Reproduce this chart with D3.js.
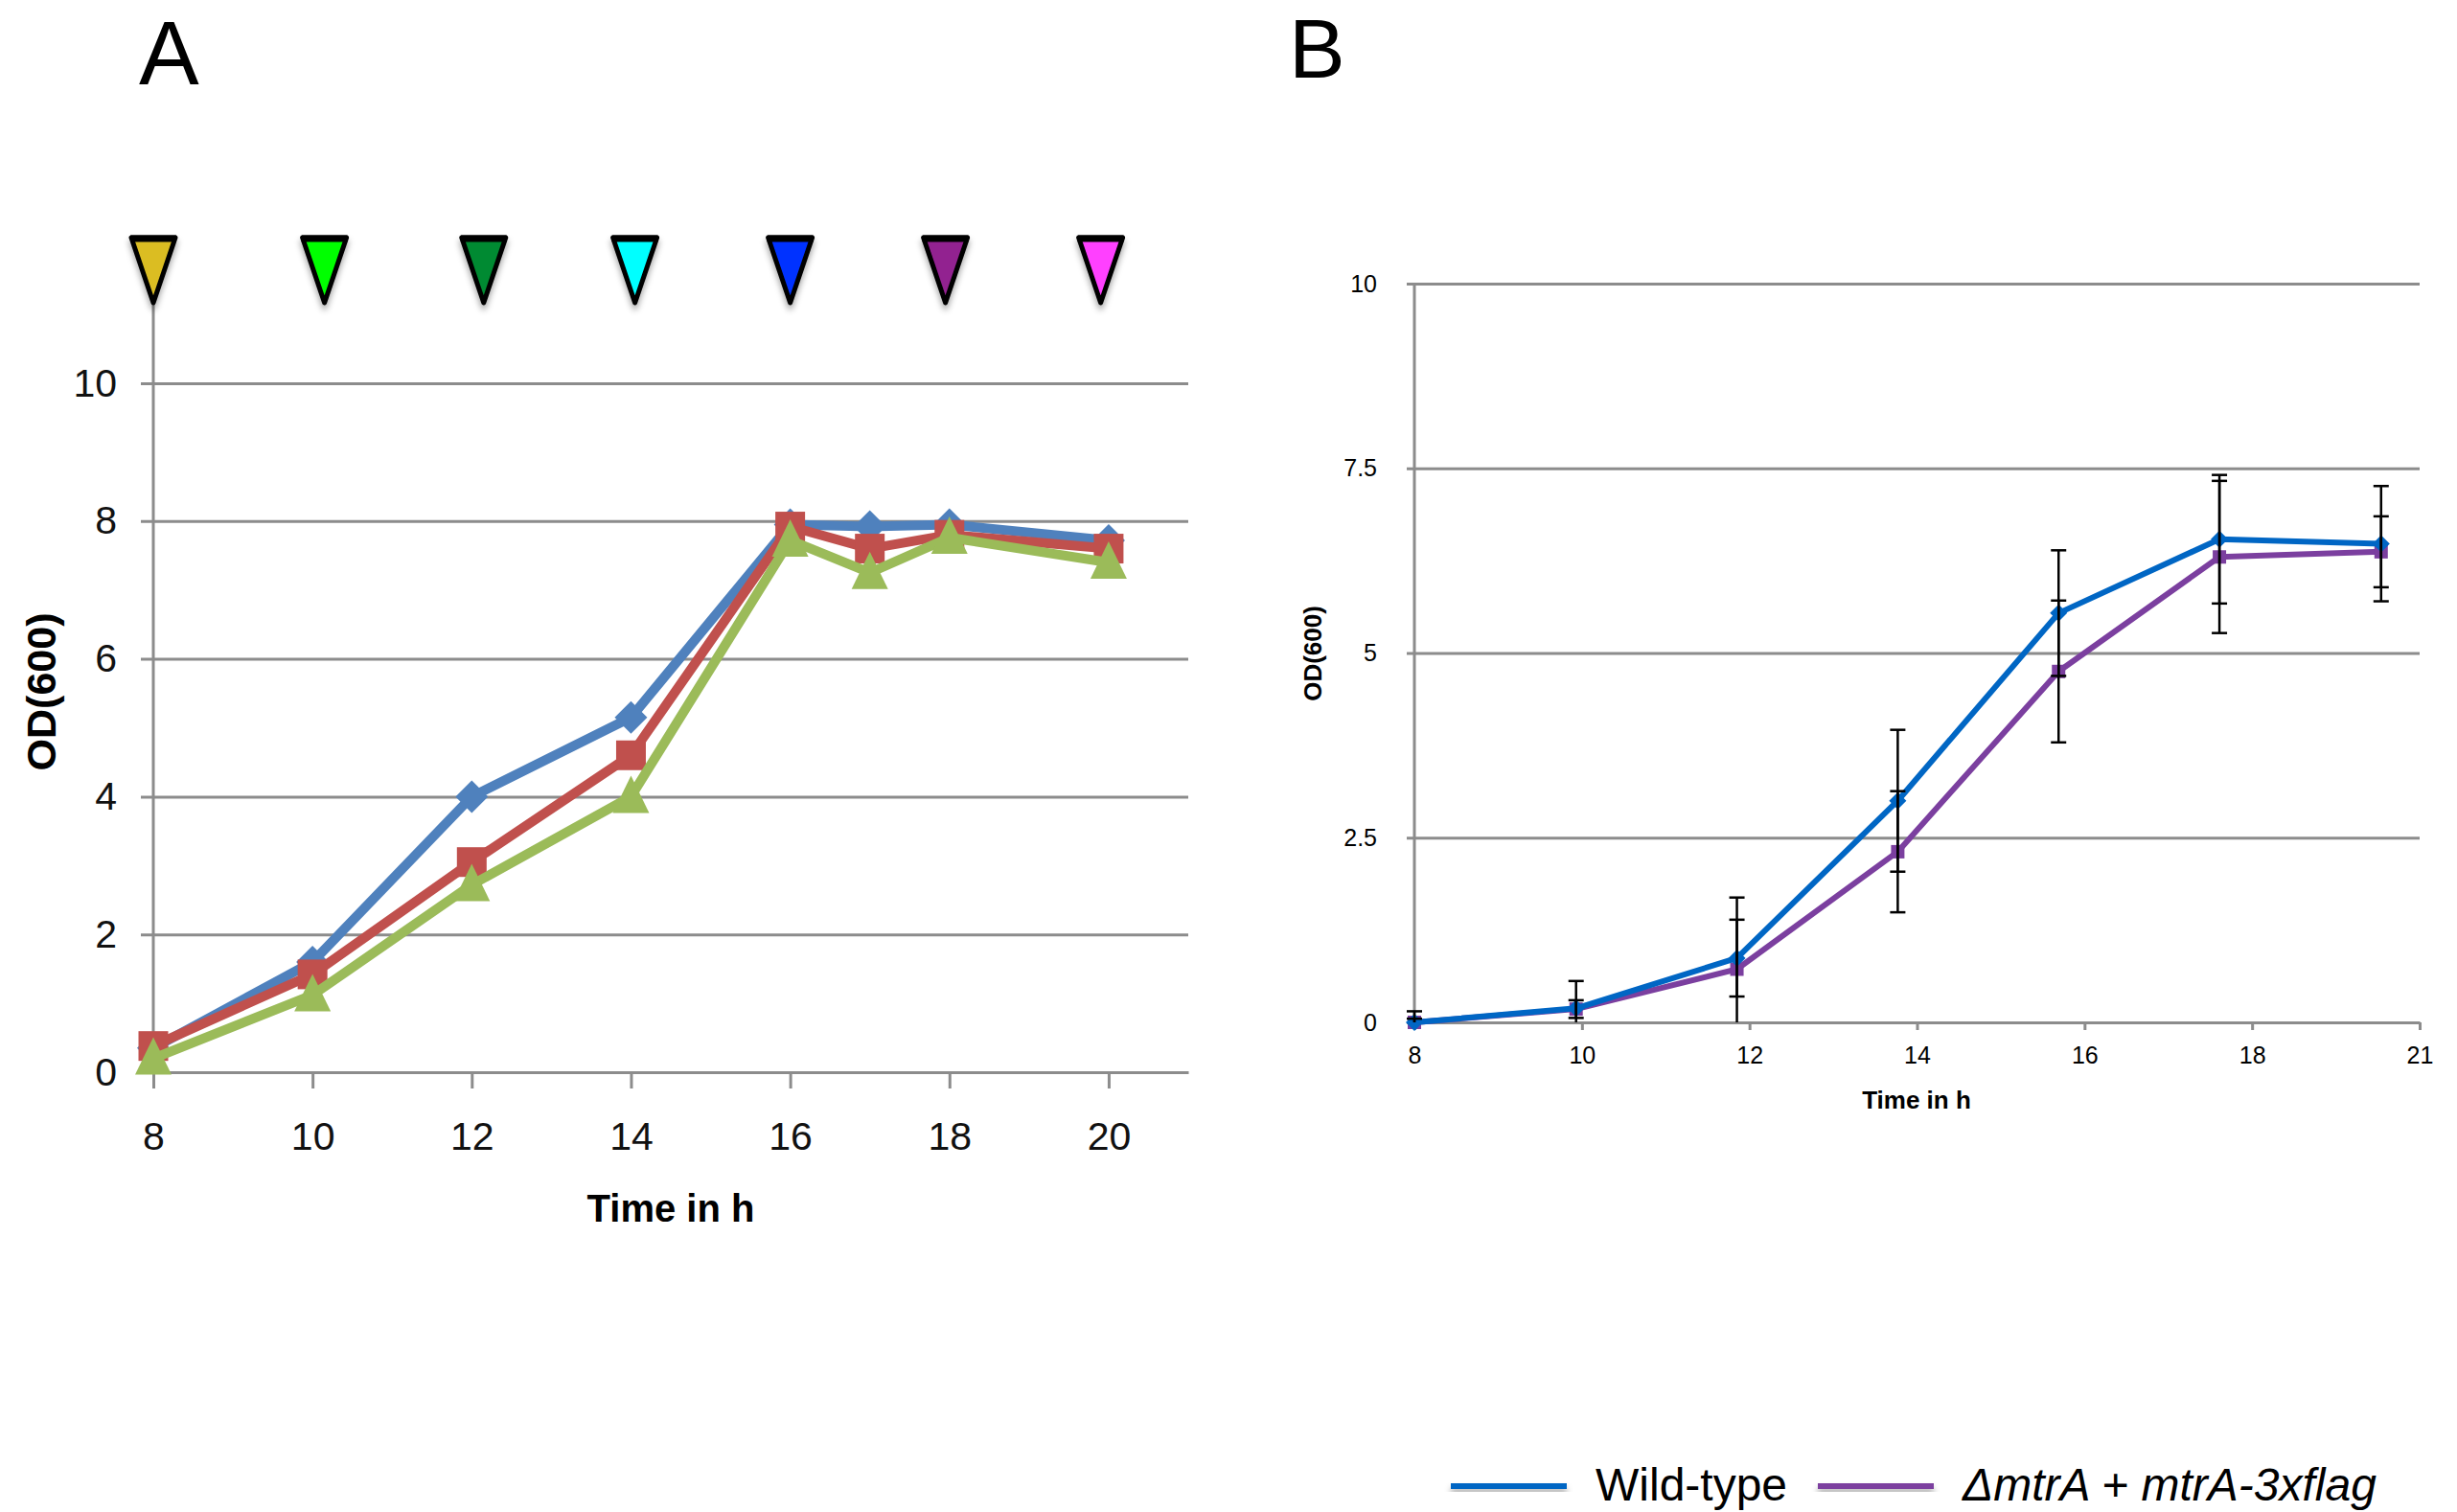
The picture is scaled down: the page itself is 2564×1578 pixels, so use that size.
<!DOCTYPE html>
<html>
<head>
<meta charset="utf-8">
<script src="https://cdn.jsdelivr.net/npm/d3@7"></script>
<style>
  body { margin: 0; background: #fff; }
  svg { display: block; }
</style>
</head>
<body>
<div id="chart"></div>
<script>
// ---------- Panel A data ----------
const timesA = [8, 10, 12, 14, 16, 17, 18, 20];
const seriesA1 = [0.35, 1.6, 4.0, 5.15, 7.95, 7.92, 7.95, 7.72];   // blue, diamonds
const seriesA2 = [0.38, 1.42, 3.05, 4.6, 7.92, 7.6, 7.8, 7.6];     // red, squares
const seriesA3 = [0.2, 1.12, 2.72, 4.0, 7.72, 7.25, 7.76, 7.4];    // green, triangles
const xTicksA = [8, 10, 12, 14, 16, 18, 20];
const yTicksA = [0, 2, 4, 6, 8, 10];
// sampling arrows above panel A
const sampleTimesA = [8, 10.15, 12.15, 14.05, 16, 17.95, 19.9];
const sampleColors = ["#dbbd24", "#00ff00", "#008a30", "#00ffff", "#0033ff", "#922090", "#ff40ff"];

// ---------- Panel B data ----------
const timesB = [8, 9.93, 11.85, 13.77, 15.69, 17.61, 19.54];
const wildType = [0, 0.19, 0.87, 3.0, 5.54, 6.54, 6.48];
const wildTypeErr = [0.15, 0.37, 0.52, 0.96, 0.85, 0.87, 0.78];
const complemented = [0, 0.18, 0.72, 2.31, 4.75, 6.3, 6.37];
const complementedErr = [0.05, 0.12, 0.97, 0.82, 0.96, 1.03, 0.48];
const xTicksB = [8, 10, 12, 14, 16, 18, 20];
const xTickLabelsB = ["8", "10", "12", "14", "16", "18", "21"];
const yTicksB = [0, 2.5, 5, 7.5, 10];
const legendLabels = ["Wild-type", "\u0394mtrA + mtrA-3xflag"];

const W = 2564, H = 1578;
const GRID = "#8c8c8c";

const svg = d3.select("#chart").append("svg")
    .attr("width", W)
    .attr("height", H);

// soft drop shadow (arrows + legend swatches)
const defs = svg.append("defs");
defs.append("filter")
    .attr("id", "shadow")
    .attr("x", "-50%").attr("y", "-50%")
    .attr("width", "200%").attr("height", "200%")
    .append("feDropShadow")
    .attr("dx", 0).attr("dy", 5)
    .attr("stdDeviation", 3)
    .attr("flood-color", "#000")
    .attr("flood-opacity", 0.35);

// =========================== Panel A ===========================
const xA = d3.scaleLinear().domain([8, 21]).range([160, 1240]);
const yA = d3.scaleLinear().domain([0, 10]).range([1119, 400]);

const gA = svg.append("g").style("font-family", "'Liberation Sans', Arial, sans-serif");

// gridlines + y labels
gA.append("g")
    .attr("transform", `translate(147,0)`)
    .call(d3.axisLeft(yA).tickValues(yTicksA).tickSize(-(1240 - 147)).tickPadding(25))
    .call(g => g.select(".domain").remove())
    .call(g => g.selectAll("line").attr("stroke", GRID).attr("stroke-width", 3))
    .call(g => g.selectAll("text").attr("font-size", 41).attr("fill", "#111"));

// x axis
gA.append("g")
    .attr("transform", `translate(0,${yA(0)})`)
    .call(d3.axisBottom(xA).tickValues(xTicksA).tickSize(17).tickSizeOuter(0).tickPadding(35))
    .call(g => g.select(".domain").attr("stroke", GRID).attr("stroke-width", 3))
    .call(g => g.selectAll("line").attr("stroke", GRID).attr("stroke-width", 3))
    .call(g => g.selectAll("text").attr("font-size", 41).attr("fill", "#111"));

// y axis line
gA.append("line")
    .attr("x1", xA(8)).attr("x2", xA(8))
    .attr("y1", yA(11.2)).attr("y2", yA(0))
    .attr("stroke", GRID)
    .attr("stroke-width", 3);

// axis titles
gA.append("text")
    .attr("x", (xA(8) + xA(21)) / 2)
    .attr("y", 1275)
    .attr("text-anchor", "middle")
    .attr("font-size", 40)
    .attr("font-weight", "bold")
    .text("Time in h");

gA.append("text")
    .attr("transform", "translate(43,722) rotate(-90)")
    .attr("text-anchor", "middle")
    .attr("dominant-baseline", "central")
    .attr("font-size", 43)
    .attr("font-weight", "bold")
    .text("OD(600)");

// marker shapes
const diamond = r => `M0,${-r}L${r},0L0,${r}L${-r},0Z`;
const square = s => `M${-s / 2},${-s / 2}h${s}v${s}h${-s}Z`;
const triangle = (w, up, down) => `M0,${-up}L${w / 2},${down}L${-w / 2},${down}Z`;

const seriesA = [
    { values: seriesA1, color: "#4f81bd", shape: diamond(17) },
    { values: seriesA2, color: "#c0504d", shape: square(31) },
    { values: seriesA3, color: "#9bbb59", shape: triangle(38, 22, 17) }
];

const lineA = d3.line()
    .x(d => xA(d[0]))
    .y(d => yA(d[1]));

seriesA.forEach(s => {
    const pts = timesA.map((t, i) => [t, s.values[i]]);
    gA.append("path")
        .datum(pts)
        .attr("fill", "none")
        .attr("stroke", s.color)
        .attr("stroke-width", 10)
        .attr("stroke-linejoin", "round")
        .attr("d", lineA);
    gA.selectAll(null)
        .data(pts)
        .join("path")
        .attr("transform", d => `translate(${xA(d[0])},${yA(d[1])})`)
        .attr("d", s.shape)
        .attr("fill", s.color);
});

// sampling arrows
const arrows = gA.append("g").attr("filter", "url(#shadow)");
sampleTimesA.forEach((t, i) => {
    const cx = xA(t);
    arrows.append("path")
        .attr("d", `M${cx - 23},248L${cx + 23},248L${cx},316Z`)
        .attr("fill", sampleColors[i])
        .attr("stroke", "#000")
        .attr("stroke-width", 5)
        .attr("stroke-linejoin", "round");
    arrows.append("line")
        .attr("x1", cx - 24).attr("x2", cx + 24)
        .attr("y1", 249).attr("y2", 249)
        .attr("stroke", "#000")
        .attr("stroke-width", 7);
});

// panel letter
svg.append("text")
    .attr("x", 145)
    .attr("y", 88)
    .attr("font-family", "'Liberation Sans', Arial, sans-serif")
    .attr("font-size", 94)
    .text("A");

// =========================== Panel B ===========================
const xB = d3.scaleLinear().domain([8, 20]).range([1476, 2525]);
const yB = d3.scaleLinear().domain([0, 10]).range([1067, 296]);

const gB = svg.append("g").style("font-family", "'Liberation Sans', Arial, sans-serif");

// gridlines + y labels
gB.append("g")
    .attr("transform", `translate(1468,0)`)
    .call(d3.axisLeft(yB).tickValues(yTicksB).tickSize(-(2525 - 1468)).tickPadding(31)
        .tickFormat(d => String(d)))
    .call(g => g.select(".domain").remove())
    .call(g => g.selectAll("line").attr("stroke", GRID).attr("stroke-width", 3))
    .call(g => g.selectAll("text").attr("font-size", 25).attr("fill", "#000"));

// x axis
gB.append("g")
    .attr("transform", `translate(0,${yB(0)})`)
    .call(d3.axisBottom(xB).tickValues(xTicksB).tickSize(8).tickSizeOuter(0).tickPadding(17)
        .tickFormat((d, i) => xTickLabelsB[i]))
    .call(g => g.select(".domain").attr("stroke", GRID).attr("stroke-width", 3))
    .call(g => g.selectAll("line").attr("stroke", GRID).attr("stroke-width", 3))
    .call(g => g.selectAll("text").attr("font-size", 25).attr("fill", "#000"));

// y axis line
gB.append("line")
    .attr("x1", xB(8)).attr("x2", xB(8))
    .attr("y1", yB(10)).attr("y2", yB(0))
    .attr("stroke", GRID)
    .attr("stroke-width", 3);

// axis titles
gB.append("text")
    .attr("x", 2000)
    .attr("y", 1157)
    .attr("text-anchor", "middle")
    .attr("font-size", 26)
    .attr("font-weight", "bold")
    .text("Time in h");

gB.append("text")
    .attr("transform", "translate(1370,682) rotate(-90)")
    .attr("text-anchor", "middle")
    .attr("dominant-baseline", "central")
    .attr("font-size", 26)
    .attr("font-weight", "bold")
    .text("OD(600)");

const seriesB = [
    { values: complemented, err: complementedErr, color: "#7b3f9f", shape: square(14) },
    { values: wildType, err: wildTypeErr, color: "#0066c4", shape: diamond(9) }
];

const lineB = d3.line()
    .x(d => xB(d[0]))
    .y(d => yB(d[1]));

seriesB.forEach(s => {
    const pts = timesB.map((t, i) => [t, s.values[i]]);
    gB.append("path")
        .datum(pts)
        .attr("fill", "none")
        .attr("stroke", s.color)
        .attr("stroke-width", 6)
        .attr("stroke-linejoin", "round")
        .attr("d", lineB);
    gB.selectAll(null)
        .data(pts)
        .join("path")
        .attr("transform", d => `translate(${xB(d[0])},${yB(d[1])})`)
        .attr("d", s.shape)
        .attr("fill", s.color);
});

// error bars (clipped at the x axis)
seriesB.forEach(s => {
    timesB.forEach((t, i) => {
        const cx = xB(t);
        const hi = s.values[i] + s.err[i];
        const lo = s.values[i] - s.err[i];
        gB.append("line")
            .attr("x1", cx).attr("x2", cx)
            .attr("y1", yB(hi)).attr("y2", yB(Math.max(lo, 0)))
            .attr("stroke", "#000")
            .attr("stroke-width", 2.5);
        const caps = lo >= 0 ? [hi, lo] : [hi];
        caps.forEach(v => {
            gB.append("line")
                .attr("x1", cx - 8).attr("x2", cx + 8)
                .attr("y1", yB(v)).attr("y2", yB(v))
                .attr("stroke", "#000")
                .attr("stroke-width", 2.5);
        });
    });
});

// panel letter
svg.append("text")
    .attr("x", 1345)
    .attr("y", 81)
    .attr("font-family", "'Liberation Sans', Arial, sans-serif")
    .attr("font-size", 88)
    .text("B");

// legend
const legendColors = [seriesB[1].color, seriesB[0].color];
const legendX = [1514, 1897];
const legend = svg.append("g")
    .style("font-family", "'Liberation Sans', Arial, sans-serif");
legendLabels.forEach((label, i) => {
    legend.append("rect")
        .attr("x", legendX[i]).attr("y", 1548)
        .attr("width", 121).attr("height", 6)
        .attr("fill", legendColors[i])
        .attr("filter", "url(#shadow)");
    legend.append("text")
        .attr("x", legendX[i] + 151)
        .attr("y", 1566)
        .attr("font-size", 48)
        .attr("font-style", i === 1 ? "italic" : "normal")
        .text(label);
});
</script>
</body>
</html>
